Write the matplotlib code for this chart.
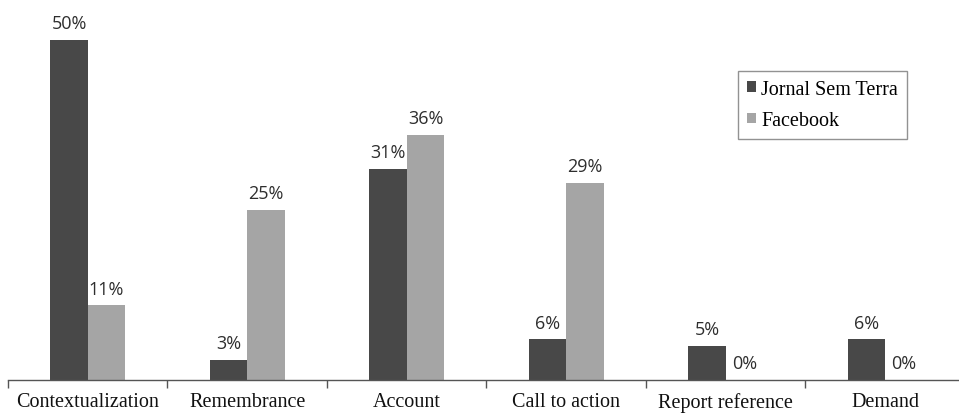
import matplotlib
matplotlib.use("Agg")
import matplotlib.pyplot as plt
import numpy as np

categories = ["Contextualization", "Remembrance", "Account", "Call to action", "Report reference", "Demand"]
jornal = [50, 3, 31, 6, 5, 6]
facebook = [11, 25, 36, 29, 0, 0]
series_names = ["Jornal Sem Terra", "Facebook"]

fig = plt.figure(figsize=(9.59, 4.14), dpi=100)
ax = fig.add_axes([8/959, 33/414, 951/959, 381/414])

x = np.arange(len(categories))
w = 0.235
dark = "#484848"
light = "#a5a5a5"
b1 = ax.bar(x - w/2, jornal, w, color=dark, label=series_names[0])
b2 = ax.bar(x + w/2, facebook, w, color=light, label=series_names[1])

for bars, vals in ((b1, jornal), (b2, facebook)):
    for r, v in zip(bars, vals):
        ax.annotate(f"{v}%", (r.get_x() + r.get_width()/2, r.get_height()),
                    xytext=(0, 5.5), textcoords="offset points",
                    ha="center", va="bottom", fontsize=13, family="Open Sans", color="#2e2e2e")

ax.set_xlim(-0.5, -0.5 + 951/159.5)
ax.set_ylim(0, 56.0)
for s in ("top", "right", "left"):
    ax.spines[s].set_visible(False)
ax.spines["bottom"].set_color("#555555")
ax.spines["bottom"].set_linewidth(1.0)
ax.set_yticks([])
ax.set_xticks(x)
ax.set_xticklabels(categories, family="Liberation Serif", fontsize=14.5, color="#111111")
ax.tick_params(axis="x", which="major", length=0, pad=8.5)
ax.set_xticks(np.arange(-0.5, 5.0, 1.0), minor=True)
ax.tick_params(axis="x", which="minor", length=5.5, direction="out", color="#555555", width=1.0)

leg = ax.legend(loc="upper left", bbox_to_anchor=((738-8)/951, 1 - 72/381),
                borderaxespad=0,
                prop={"family": "Liberation Serif", "size": 14.5},
                handlelength=0.45, handleheight=0.45, handletextpad=0.25,
                frameon=True, fancybox=False, edgecolor="#777777",
                borderpad=0.45, labelspacing=0.6)
leg.get_frame().set_linewidth(1.0)

fig.savefig("out.png", dpi=100)
